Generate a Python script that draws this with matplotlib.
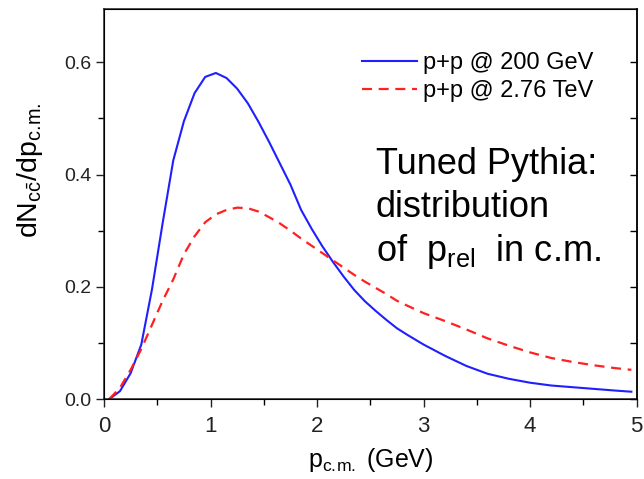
import matplotlib
matplotlib.use("Agg")
import matplotlib.pyplot as plt
from matplotlib.ticker import MultipleLocator, FormatStrFormatter

plt.rcParams['font.family'] = ['Liberation Sans', 'DejaVu Sans']
plt.rcParams['mathtext.fontset'] = 'custom'
plt.rcParams['mathtext.rm'] = 'Liberation Sans'
plt.rcParams['mathtext.it'] = 'Liberation Sans'

x_200 = [0.05, 0.15, 0.25, 0.35, 0.45, 0.55, 0.65, 0.75, 0.85, 0.95, 1.05, 1.15,
         1.25, 1.35, 1.45, 1.55, 1.65, 1.75, 1.85, 1.95, 2.05, 2.15, 2.25, 2.35,
         2.45, 2.55, 2.65, 2.75, 2.85, 3.0, 3.2, 3.4, 3.6, 3.8, 4.0, 4.2, 4.4,
         4.6, 4.8, 4.95]
y_200 = [0.0, 0.014, 0.046, 0.097, 0.195, 0.313, 0.425, 0.495, 0.545, 0.574,
         0.581, 0.572, 0.553, 0.527, 0.494, 0.458, 0.420, 0.382, 0.337, 0.303,
         0.272, 0.244, 0.218, 0.194, 0.174, 0.157, 0.141, 0.126, 0.114, 0.097,
         0.077, 0.059, 0.045, 0.036, 0.029, 0.024, 0.021, 0.018, 0.015, 0.013]

x_276 = [0.05, 0.15, 0.25, 0.35, 0.45, 0.55, 0.65, 0.75, 0.85, 0.95, 1.05, 1.15,
         1.25, 1.35, 1.45, 1.55, 1.65, 1.75, 1.85, 1.95, 2.05, 2.15, 2.25, 2.35,
         2.45, 2.55, 2.65, 2.75, 2.85, 3.0, 3.2, 3.4, 3.6, 3.8, 4.0, 4.2, 4.4,
         4.6, 4.8, 4.95]
y_276 = [0.0, 0.02, 0.052, 0.089, 0.132, 0.175, 0.213, 0.258, 0.29, 0.315,
         0.329, 0.337, 0.341, 0.340, 0.334, 0.324, 0.313, 0.300, 0.286, 0.273,
         0.260, 0.247, 0.234, 0.221, 0.209, 0.198, 0.187, 0.175, 0.166, 0.153,
         0.139, 0.124, 0.108, 0.095, 0.083, 0.073, 0.066, 0.060, 0.055, 0.052]

label_200 = 'p+p @ 200 GeV'
label_276 = 'p+p @ 2.76 TeV'

fig = plt.figure(figsize=(6.44, 4.79), dpi=100)
ax = fig.add_axes([104/644, 80/479, 532.7/644, 390/479])

ax.plot(x_200, y_200, color='#1f1fff', lw=1.5, label=label_200)
ax.plot(x_276, y_276, color='#ff2020', lw=1.6, linestyle=(0, (4.5, 3)), label=label_276)

ax.set_xlim(0, 5)
ax.set_ylim(0, 0.695)
ax.xaxis.set_major_locator(MultipleLocator(1))
ax.xaxis.set_minor_locator(MultipleLocator(0.5))
ax.yaxis.set_major_locator(MultipleLocator(0.2))
ax.yaxis.set_minor_locator(MultipleLocator(0.1))
ax.yaxis.set_major_formatter(FormatStrFormatter('%.1f'))
ax.tick_params(which='major', direction='out', length=6, width=1.0,
               colors='#222222', pad=3)
ax.tick_params(axis='y', which='major', labelsize=14)
ax.tick_params(axis='x', which='major', labelsize=16, pad=6)
ax.tick_params(which='minor', direction='out', length=4, width=1.0)
for s in ax.spines.values():
    s.set_linewidth(1.1)
    s.set_color('#222222')

ax2 = ax.twinx()
ax2.set_ylim(ax.get_ylim())
ax2.yaxis.set_major_locator(MultipleLocator(0.2))
ax2.yaxis.set_minor_locator(MultipleLocator(0.1))
ax2.tick_params(which='both', direction='in', length=5, width=1.0, labelright=False)
ax2.spines['right'].set_linewidth(1.1)

ax.set_xlabel(r'p$_{\mathrm{c.\!m.}}$ (GeV)', fontsize=18, labelpad=7)
ax.set_ylabel(r'dN$_{\mathrm{c\bar{c}}}$/dp$_{\mathrm{c.\!m.}}$', fontsize=20.5)
ax.yaxis.set_label_coords(-0.111, 0.588)

leg = ax.legend(loc='upper left', bbox_to_anchor=(0.4838, 0.889), frameon=False,
                fontsize=17, handlelength=2.33, handletextpad=0.27,
                labelspacing=0.25, borderpad=0, borderaxespad=0)

tx = 0.51
ax.text(tx, 0.577, 'Tuned Pythia:', transform=ax.transAxes, fontsize=26, va='baseline')
ax.text(tx, 0.467, 'distribution', transform=ax.transAxes, fontsize=26, va='baseline')
ax.text(tx, 0.355, r'of  p$_{\mathrm{rel}}$  in c.m.', transform=ax.transAxes, fontsize=26, va='baseline')

fig.savefig('out.png', dpi=100)
